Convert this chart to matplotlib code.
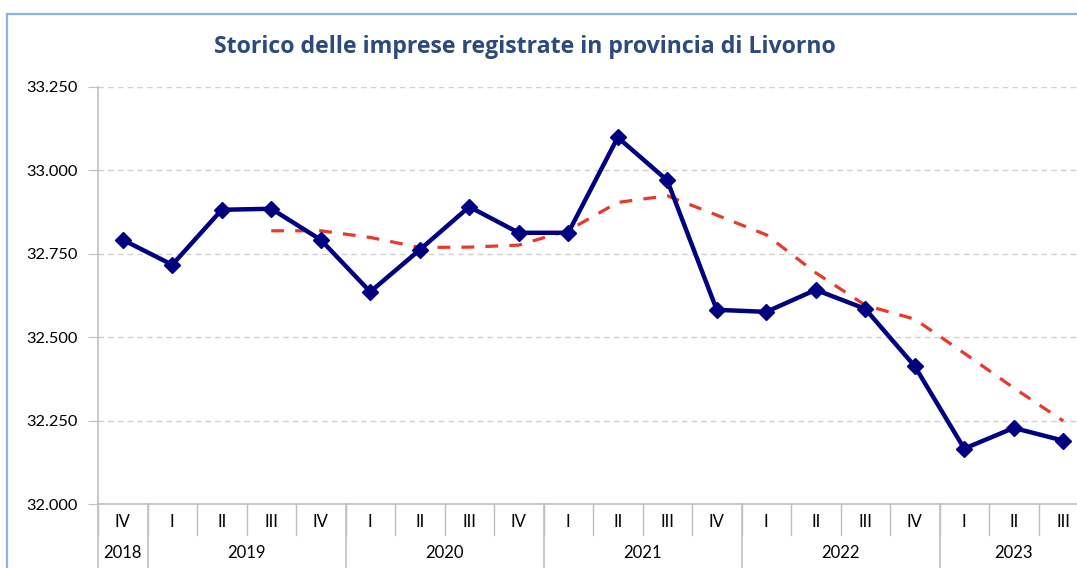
import matplotlib.pyplot as plt
from matplotlib.lines import Line2D
from matplotlib.ticker import FuncFormatter

# Quarterly data, IV 2018 -> III 2023
quarters = ['IV', 'I', 'II', 'III', 'IV', 'I', 'II', 'III', 'IV', 'I',
            'II', 'III', 'IV', 'I', 'II', 'III', 'IV', 'I', 'II', 'III']
years = ['2018', '2019', '2020', '2021', '2022', '2023']
year_counts = [1, 4, 4, 4, 4, 3]
imprese = [32792, 32717, 32882, 32885, 32792, 32636, 32762, 32891, 32813, 32813,
           33099, 32970, 32582, 32576, 32642, 32585, 32413, 32166, 32228, 32190]
# moving average trend (4 periods), starts at III 2019
media_mobile = [None, None, None, 32819, 32819, 32799, 32769, 32770, 32776, 32820,
                32904, 32924, 32866, 32807, 32693, 32596, 32554, 32452, 32348, 32249]
yticks = [32000, 32250, 32500, 32750, 33000, 33250]

plt.rcParams['font.family'] = ['Lato', 'DejaVu Sans']

W, H = 1077, 568
fig = plt.figure(figsize=(W / 100, H / 100), dpi=100)

# outer chart border (light blue, top and left visible)
fig.add_artist(Line2D([7 / W, 7 / W], [0, 1 - 14 / H], color='#8db3e2', lw=1.6))
fig.add_artist(Line2D([7 / W, 1], [1 - 14 / H, 1 - 14 / H], color='#8db3e2', lw=1.6))

ax = fig.add_axes([98 / W, (H - 504) / H, 990 / W, 417 / H])

x = list(range(len(imprese)))
ax.plot(x, imprese, color='#000080', lw=3.2, marker='D', markersize=8, zorder=3)
xm = [i for i, v in zip(x, media_mobile) if v is not None]
ym = [v for v in media_mobile if v is not None]
ax.plot(xm, ym, color='#e8392b', lw=2.3, dashes=(4, 3.5), zorder=2)

ax.set_xlim(-0.5, len(imprese) - 0.5)
ax.set_ylim(32000, 33250)
ax.set_yticks(yticks)
ax.yaxis.set_major_formatter(FuncFormatter(lambda v, p: f'{v:,.0f}'.replace(',', '.')))
ax.tick_params(axis='y', labelsize=11.8, length=7, color='#bfbfbf', pad=8, labelcolor='#000000')
ax.set_xticks([])
ax.grid(axis='y', color='#d0d0d0', ls=(0, (4, 3)), lw=1)
for s in ['top', 'right']:
    ax.spines[s].set_visible(False)
ax.spines['left'].set_color('#bfbfbf')
ax.spines['bottom'].set_color('#bfbfbf')
ax.spines['left'].set_linewidth(1.2)
ax.spines['bottom'].set_linewidth(1.2)

# two-level category axis
tr = ax.get_xaxis_transform()
for i, q in enumerate(quarters):
    ax.text(i, -0.043, q, transform=tr, ha='center', va='center', fontsize=12)
    ax.plot([i - 0.5, i - 0.5], [0, -0.074], transform=tr, color='#bfbfbf', lw=1, clip_on=False)
start = 0
for yr, n in zip(years, year_counts):
    ax.text(start + (n - 1) / 2, -0.118, yr, transform=tr, ha='center', va='center', fontsize=12)
    ax.plot([start - 0.5, start - 0.5], [0, -0.2], transform=tr, color='#bfbfbf', lw=1.2, clip_on=False)
    start += n

fig.text(525 / W, 1 - 47 / H, 'Storico delle imprese registrate in provincia di Livorno',
         ha='center', va='center', fontsize=16.7, fontweight='bold', color='#2c4a80',
         family=['Open Sans', 'DejaVu Sans'])

fig.savefig('out.png', dpi=100)
